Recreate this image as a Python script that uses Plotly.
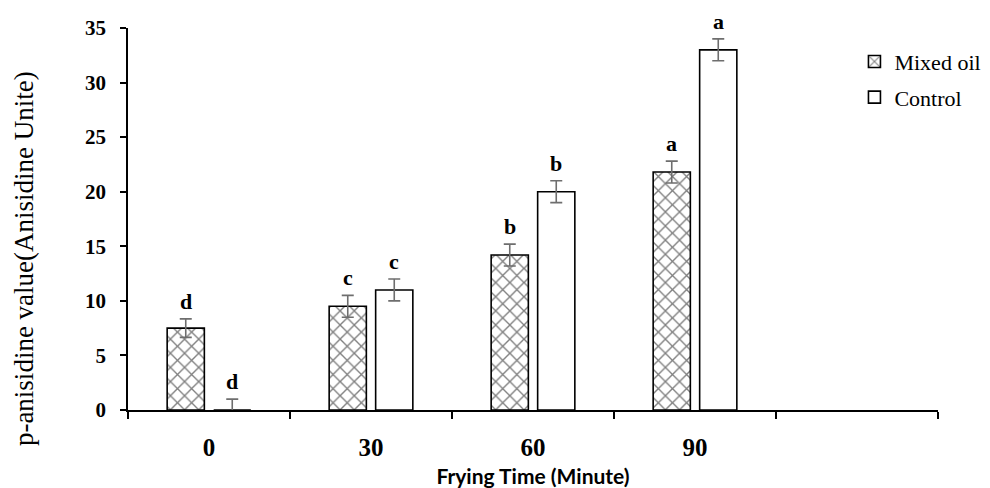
import plotly.graph_objects as go

times = ["0", "30", "60", "90"]
mixed_oil = [7.5, 9.5, 14.2, 21.8]
mixed_err = [0.85, 1.0, 1.0, 1.0]
mixed_letters = ["d", "c", "b", "a"]
control = [0.0, 11.0, 20.0, 33.0]
control_err = [1.0, 1.0, 1.0, 1.0]
control_letters = ["d", "c", "b", "a"]
y_ticks = [0, 5, 10, 15, 20, 25, 30, 35]
y_title = "p-anisidine value(Anisidine Unite)"
x_title = "Frying Time (Minute)"

xpos = list(range(len(times)))
bargap = 0.426
slot = (1 - bargap) / 2
SERIF = "Liberation Serif, Times New Roman, serif"

fig = go.Figure()
fig.add_trace(go.Bar(
    x=xpos, y=mixed_oil, name="Mixed oil", legendgroup="m",
    marker=dict(color="white", line=dict(color="black", width=1.6),
                pattern=dict(shape="x", fgcolor="black", bgcolor="white", size=10, solidity=0.25)),
    error_y=dict(type="data", array=mixed_err, color="#6e6e6e", thickness=1.6, width=6),
))
fig.add_trace(go.Bar(
    x=xpos, y=control, name="Control", legendgroup="c",
    marker=dict(color="white", line=dict(color="black", width=1.6)),
    error_y=dict(type="data", array=control_err, color="#6e6e6e", thickness=1.6, width=6),
))

letter_font = dict(family=SERIF, size=22, color="black", weight="bold")
for i in xpos:
    fig.add_annotation(x=i - slot / 2, y=mixed_oil[i] + mixed_err[i], text=mixed_letters[i],
                       showarrow=False, yanchor="bottom", yshift=3, font=letter_font)
    fig.add_annotation(x=i + slot / 2, y=control[i] + control_err[i], text=control_letters[i],
                       showarrow=False, yanchor="bottom", yshift=3, font=letter_font)

# y-axis title (placed as rotated text, slightly below the plot-area centre as in the reference)
fig.add_annotation(xref="paper", yref="paper", x=0, y=0.395, xanchor="center", yanchor="middle",
                   xshift=-104, textangle=-90, showarrow=False, text=y_title,
                   font=dict(family=SERIF, size=27, color="black", weight="normal"))

fig.update_layout(
    width=990, height=488,
    margin=dict(l=120, r=60, t=20, b=86, autoexpand=False),
    paper_bgcolor="white", plot_bgcolor="white",
    barmode="group", bargap=bargap, bargroupgap=0.2,
    showlegend=True,
    legend=dict(xref="container", yref="container", x=0.855, y=0.933, xanchor="left", yanchor="top",
                font=dict(family=SERIF, size=22, color="black", weight="normal"),
                bgcolor="rgba(0,0,0,0)", itemwidth=30, tracegroupgap=4),
    xaxis=dict(
        range=[-0.5, 4.5], tickmode="array", tickvals=xpos, ticktext=times,
        ticks="", showline=True, linecolor="black", linewidth=1.5, showgrid=False, zeroline=False,
        automargin=False, ticklabelstandoff=14,
        tickfont=dict(family=SERIF, size=25, color="black", weight="bold"),
        minor=dict(tickmode="array", tickvals=[-0.5, 0.5, 1.5, 2.5, 3.5, 4.5], ticks="outside",
                   ticklen=7, tickwidth=1.5, tickcolor="black", showgrid=False),
        title=dict(text=x_title, standoff=10,
                   font=dict(family="Lato", size=21, color="black", weight="bold")),
    ),
    yaxis=dict(
        range=[0, 35], tickmode="array", tickvals=y_ticks,
        ticks="outside", ticklen=6, tickwidth=1.5, tickcolor="black",
        showline=True, linecolor="black", linewidth=1.5, showgrid=False, zeroline=False,
        automargin=False, ticklabelstandoff=10,
        tickfont=dict(family=SERIF, size=21, color="black", weight="bold"),
    ),
)

fig.write_html("out.html")
